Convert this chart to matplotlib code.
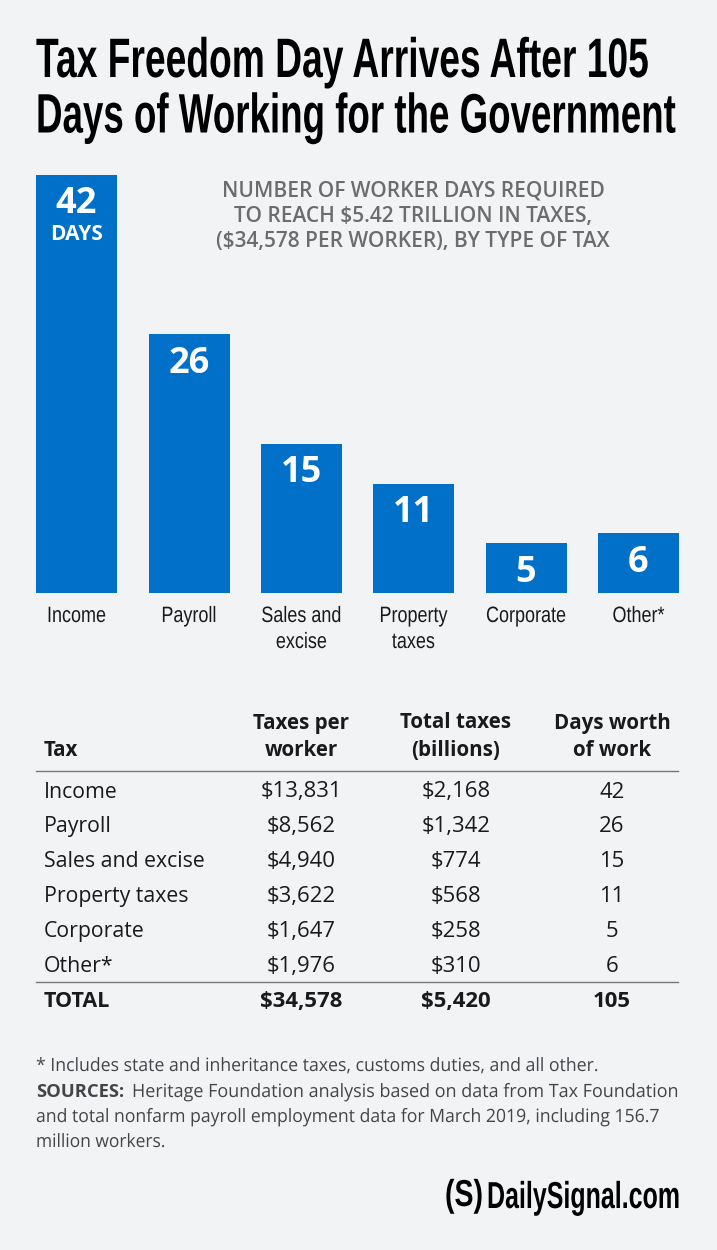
import matplotlib.pyplot as plt
import matplotlib.patheffects as pe
from matplotlib.text import Text
from matplotlib.transforms import Affine2D, Bbox

# chart data
categories = ["Income", "Payroll", "Sales and\nexcise", "Property\ntaxes", "Corporate", "Other*"]
days = [42, 26, 15, 11, 5, 6]

# table data
table_names = ["Income", "Payroll", "Sales and excise", "Property taxes", "Corporate", "Other*"]
per_worker = ["$13,831", "$8,562", "$4,940", "$3,622", "$1,647", "$1,976"]
total_taxes = ["$2,168", "$1,342", "$774", "$568", "$258", "$310"]
days_work = ["42", "26", "15", "11", "5", "6"]
totals = ["TOTAL", "$34,578", "$5,420", "105"]

W, H = 717, 1250
BG = "#f2f3f5"
BLUE = "#0070c8"
DARK = "#1a1a1a"
FOOT = "#444548"

plt.rcParams['font.family'] = ['Open Sans', 'DejaVu Sans']

fig = plt.figure(figsize=(W / 100, H / 100), dpi=100, facecolor=BG)

# full figure overlay in pixel coordinates, y down
page = fig.add_axes([0, 0, 1, 1])
page.set_xlim(0, W)
page.set_ylim(H, 0)
page.axis("off")


# no condensed font installed, so squeeze the glyphs sideways around the anchor
class Squeeze(pe.AbstractPathEffect):
    def __init__(self, text):
        super().__init__()
        self.text = text

    def draw_path(self, renderer, gc, tpath, affine, rgbFace=None):
        x0 = self.text.anchor_x()
        squeeze = Affine2D().translate(-x0, 0).scale(self.text.sx, 1).translate(x0, 0)
        renderer.draw_path(gc, tpath, affine + squeeze, rgbFace)


class NarrowText(Text):
    sx = 1.0

    def anchor_x(self):
        return self.get_transform().transform(self.get_unitless_position())[0]

    def get_window_extent(self, renderer=None, dpi=None):
        bb = super().get_window_extent(renderer, dpi)
        x0 = self.anchor_x()
        return Bbox([[x0 + (bb.x0 - x0) * self.sx, bb.y0], [x0 + (bb.x1 - x0) * self.sx, bb.y1]])


def narrow(x, y, s, sx=None, width=None, **kw):
    t = NarrowText(x, y, s, **kw)
    page.add_artist(t)
    t.set_transform(page.transData)
    if width is not None:
        sx = width / t.get_window_extent(fig.canvas.get_renderer()).width
    t.sx = sx
    t.set_path_effects([Squeeze(t)])
    return t


# bars, axes box set so that bar tops land on the reference
ax = fig.add_axes([0, 1 - 593 / H, 1, (593 - 175) / H], facecolor="none")
ax.set_xlim(0, W)
ax.set_ylim(0, 42)
ax.axis("off")
xs = [76.5, 189, 301.5, 413.5, 526, 638.5]
ax.bar(xs, days, width=81, color=BLUE)

for x, d in zip(xs, days):
    ax.annotate(str(d), (x, d), xytext=(0, -29.5), textcoords="offset pixels", ha="center", va="center",
                color="white", fontsize=26, fontweight="bold")
ax.annotate("DAYS", (xs[0], 42), xytext=(0, -60), textcoords="offset pixels", ha="center", va="center",
            color="white", fontsize=15, fontweight="bold")

# title
narrow(36, 77, "Tax Freedom Day Arrives After 105", width=612, fontsize=40, family="Liberation Sans",
       fontweight="bold", color="black", va="baseline", ha="left")
narrow(36, 132.5, "Days of Working for the Government", width=639, fontsize=40, family="Liberation Sans",
       fontweight="bold", color="black", va="baseline", ha="left")

# subtitle
sub = ["NUMBER OF WORKER DAYS REQUIRED", "TO REACH $5.42 TRILLION IN TAXES,", "($34,578 PER WORKER), BY TYPE OF TAX"]
for i, s in enumerate(sub):
    page.text(413, 191 + i * 25.5, s, fontsize=15, color="#6b6c6e", ha="center", va="center", fontweight="semibold")

# category labels
for x, c in zip(xs, categories):
    for i, l in enumerate(c.split("\n")):
        narrow(x, 622 + i * 26, l, sx=0.81, fontsize=16, family="Liberation Sans", color=DARK,
               ha="center", va="baseline")

# table
col_x = [301, 456, 612]
page.text(44, 751, "Tax", fontsize=14.8, fontweight="bold", color=DARK, va="center")
head = [("Taxes per", "worker"), ("Total taxes", "(billions)"), ("Days worth", "of work")]
for x, (a, b) in zip(col_x, head):
    page.text(x, 723, a, fontsize=14.8, fontweight="bold", color=DARK, ha="center", va="center")
    page.text(x, 751, b, fontsize=14.8, fontweight="bold", color=DARK, ha="center", va="center")
page.plot([36, 678], [771, 771], color="#77787a", lw=1)

for i in range(6):
    y = 792 + i * 34.9
    page.text(44, y, table_names[i], fontsize=15.3, color=DARK, va="center")
    page.text(col_x[0], y, per_worker[i], fontsize=15.9, color=DARK, ha="center", va="center")
    page.text(col_x[1], y, total_taxes[i], fontsize=15.9, color=DARK, ha="center", va="center")
    page.text(col_x[2], y, days_work[i], fontsize=15.9, color=DARK, ha="center", va="center")
page.plot([36, 678], [982, 982], color="#77787a", lw=1)

page.text(44, 1001.5, totals[0], fontsize=15.5, fontweight="bold", color=DARK, va="center")
for x, t in zip(col_x, totals[1:]):
    page.text(x, 1001.5, t, fontsize=15.9, fontweight="bold", color=DARK, ha="center", va="center")

# footnotes
foot_kw = dict(fontsize=13.2, color=FOOT, va="center")
narrow(36, 1066, "* Includes state and inheritance taxes, customs duties, and all other.", width=564, **foot_kw)
page.text(36, 1092, "SOURCES:", fontweight="bold", **foot_kw)
narrow(132, 1092, "Heritage Foundation analysis based on data from Tax Foundation", width=548, **foot_kw)
narrow(36, 1117, "and total nonfarm payroll employment data for March 2019, including 156.7", width=626, **foot_kw)
narrow(36, 1142, "million workers.", width=130, **foot_kw)

# logo
narrow(680, 1208, "DailySignal.com", width=193, fontsize=27, fontweight="bold", family="Liberation Sans",
       color="black", ha="right", va="baseline")
narrow(445, 1206, "(S)", width=38, fontsize=27, fontweight="bold", family="Liberation Sans",
       color="black", ha="left", va="baseline")

fig.savefig("out.png", dpi=100, facecolor=BG)
